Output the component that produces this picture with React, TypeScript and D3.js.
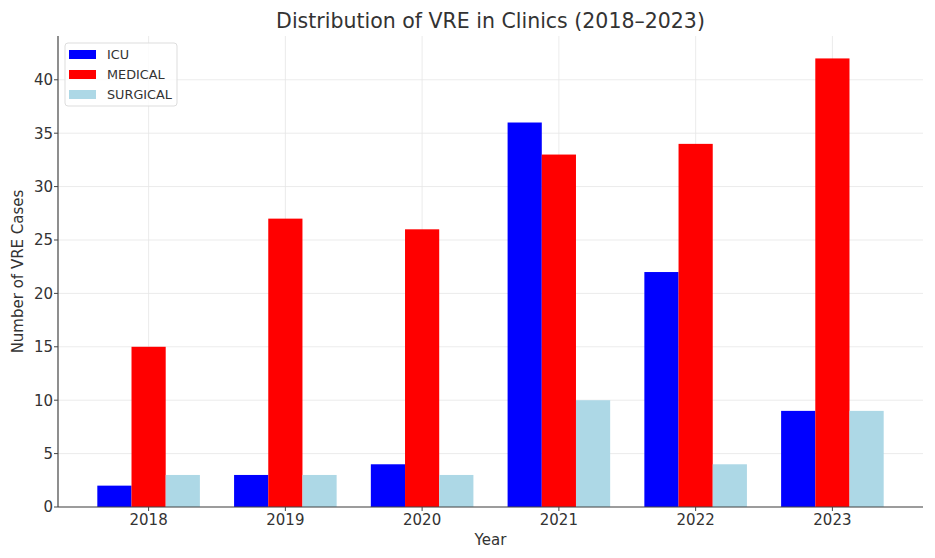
import * as d3 from 'd3';
import React from 'react';

const years = ['2018', '2019', '2020', '2021', '2022', '2023'];
const icu = [2, 3, 4, 36, 22, 9];
const medical = [15, 27, 26, 33, 34, 42];
const surgical = [3, 3, 3, 10, 4, 9];
const yTicks = [0, 5, 10, 15, 20, 25, 30, 35, 40];

const series = [
	{ name: 'ICU', values: icu, color: '#0000ff' },
	{ name: 'MEDICAL', values: medical, color: '#ff0000' },
	{ name: 'SURGICAL', values: surgical, color: '#add8e6' },
];

const W = 935;
const H = 558;
const margin = { top: 36, right: 12, bottom: 51, left: 58 };
const font = 'DejaVu Sans, sans-serif';
const textColor = '#333';

const App = () => {
	const innerW = W - margin.left - margin.right;
	const innerH = H - margin.top - margin.bottom;
	const barW = 0.25;

	// continuous x like matplotlib: index positions with 5% margins
	const x = d3.scaleLinear().domain([-0.6625, 5.6625]).range([0, innerW]);
	const y = d3.scaleLinear().domain([0, 44.1]).range([innerH, 0]);
	const bw = x(barW) - x(0);

	return (
		<svg width={W} height={H} style={{ position: 'absolute', left: 0, top: 0, background: '#fff' }} fontFamily={font}>
			<text x={margin.left + innerW / 2} y={28} textAnchor="middle" fontSize={20.5} fill={textColor}>
				Distribution of VRE in Clinics (2018–2023)
			</text>
			<g transform={`translate(${margin.left},${margin.top})`}>
				{/* grid */}
				{yTicks.map(t => (
					<line key={'gy' + t} x1={0} x2={innerW} y1={y(t)} y2={y(t)} stroke="#e6e6e6" strokeWidth={0.8} />
				))}
				{years.map((yr, i) => (
					<line key={'gx' + yr} x1={x(i)} x2={x(i)} y1={0} y2={innerH} stroke="#e6e6e6" strokeWidth={0.8} />
				))}
				{/* bars */}
				{series.map((s, si) =>
					s.values.map((v, i) => (
						<rect
							key={s.name + i}
							x={x(i + (si - 1) * barW - barW / 2)}
							y={y(v)}
							width={bw}
							height={y(0) - y(v)}
							fill={s.color}
						/>
					))
				)}
				{/* axes */}
				<line x1={0} x2={0} y1={0} y2={innerH} stroke="#444" strokeWidth={1.2} />
				<line x1={0} x2={innerW} y1={innerH} y2={innerH} stroke="#444" strokeWidth={1.2} />
				{yTicks.map(t => (
					<g key={'ty' + t} transform={`translate(0,${y(t)})`}>
						<line x1={-4} x2={0} stroke="#444" />
						<text x={-5} dy="0.36em" textAnchor="end" fontSize={15} fill={textColor}>{t}</text>
					</g>
				))}
				{years.map((yr, i) => (
					<g key={'tx' + yr} transform={`translate(${x(i)},${innerH})`}>
						<line y1={0} y2={4} stroke="#444" />
						<text y={17.5} textAnchor="middle" fontSize={15} fill={textColor}>{yr}</text>
					</g>
				))}
				<text x={innerW / 2} y={innerH + 38} textAnchor="middle" fontSize={15} fill={textColor}>Year</text>
				<text
					transform={`translate(${-35},${innerH / 2}) rotate(-90)`}
					textAnchor="middle"
					fontSize={15}
					fill={textColor}
				>
					Number of VRE Cases
				</text>
				{/* legend */}
				<g transform="translate(7,7)">
					<rect x={0} y={0} width={112} height={63} rx={3} fill="#fff" fillOpacity={0.8} stroke="#ddd" />
					{series.map((s, i) => (
						<g key={'lg' + s.name} transform={`translate(0,${11 + i * 20})`}>
							<rect x={4} y={-4} width={27} height={9} fill={s.color} />
							<text x={42} dy="0.36em" fontSize={12.8} fill={textColor}>{s.name}</text>
						</g>
					))}
				</g>
			</g>
		</svg>
	);
};

export default App;
